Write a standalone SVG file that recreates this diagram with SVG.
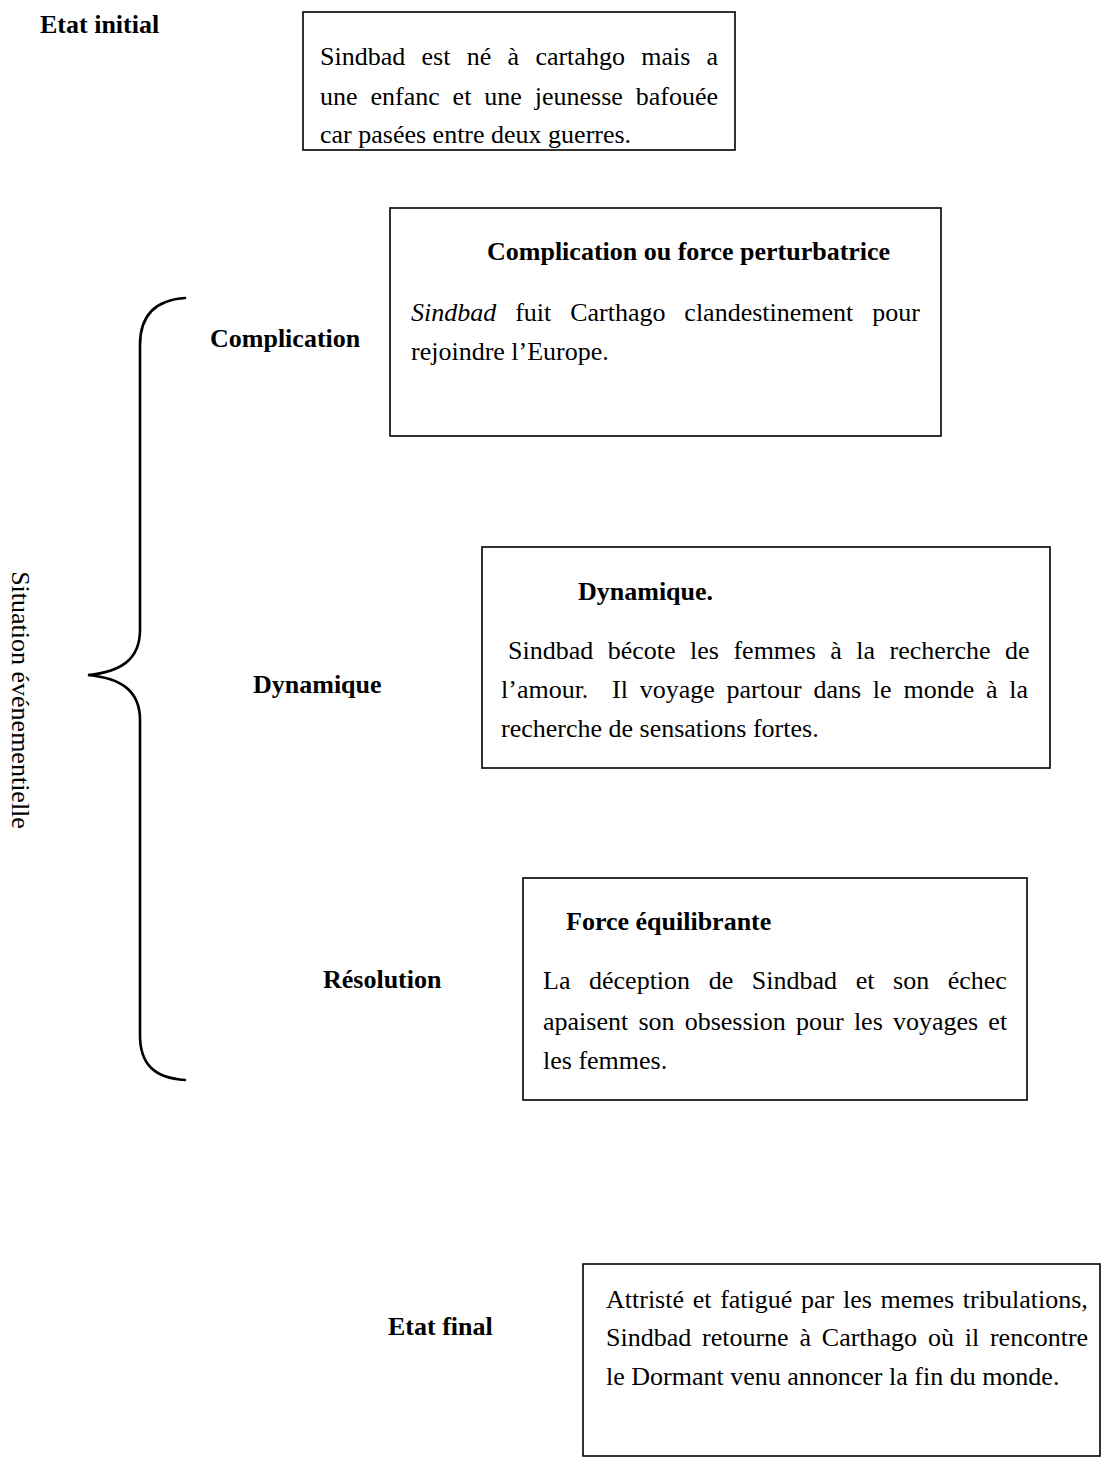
<svg xmlns="http://www.w3.org/2000/svg" width="1104" height="1472" viewBox="0 0 1104 1472">
<style>
.box{fill:#fff;stroke:#000;stroke-width:1.6}
.lbl{font-family:"Liberation Serif","Times New Roman",serif;font-size:26px;font-weight:bold;fill:#000}
.txt{font-family:"Liberation Serif","Times New Roman",serif;font-size:26px;fill:#000}
.brace{fill:none;stroke:#000;stroke-width:2.6;stroke-linecap:round}
</style>
<rect width="1104" height="1472" fill="#fff"/>
<g id="etat-initial-label"><text class="lbl" x="40" y="33">Etat initial</text></g>
<g id="etat-initial">
<rect class="box" x="303" y="12" width="432" height="138"/>
<text class="txt" x="320" y="65" style="word-spacing:9.8px">Sindbad est né à cartahgo mais a</text>
<text class="txt" x="320" y="105" style="word-spacing:6.4px">une enfanc et une jeunesse bafouée</text>
<text class="txt" x="320" y="143">car pasées entre deux guerres.</text>
</g>
<g id="complication-label"><text class="lbl" x="210" y="347">Complication</text></g>
<g id="complication">
<rect class="box" x="390" y="208" width="551" height="228"/>
<text class="lbl" x="487" y="260">Complication ou force perturbatrice</text>
<text class="txt" x="411" y="321" style="word-spacing:12.4px"><tspan font-style="italic">Sindbad</tspan> fuit Carthago clandestinement pour</text>
<text class="txt" x="411" y="360">rejoindre l’Europe.</text>
</g>
<g id="dynamique-label"><text class="lbl" x="253" y="693">Dynamique</text></g>
<g id="dynamique">
<rect class="box" x="482" y="547" width="568" height="221"/>
<text class="lbl" x="578" y="600">Dynamique.</text>
<text class="txt" x="508" y="659" style="word-spacing:8px">Sindbad bécote les femmes à la recherche de</text>
<text class="txt" x="501" y="698" xml:space="preserve" style="word-spacing:5.3px">l’amour.  Il voyage partour dans le monde à la</text>
<text class="txt" x="501" y="737">recherche de sensations fortes.</text>
</g>
<g id="resolution-label"><text class="lbl" x="323" y="988">Résolution</text></g>
<g id="resolution">
<rect class="box" x="523" y="878" width="504" height="222"/>
<text class="lbl" x="566" y="930">Force équilibrante</text>
<text class="txt" x="543" y="989" style="word-spacing:12.1px">La déception de Sindbad et son échec</text>
<text class="txt" x="543" y="1030" style="word-spacing:3.7px">apaisent son obsession pour les voyages et</text>
<text class="txt" x="543" y="1069">les femmes.</text>
</g>
<g id="etat-final-label"><text class="lbl" x="388" y="1335">Etat final</text></g>
<g id="etat-final">
<rect class="box" x="583" y="1264" width="517" height="192"/>
<text class="txt" x="606" y="1308" style="word-spacing:2.2px">Attristé et fatigué par les memes tribulations,</text>
<text class="txt" x="606" y="1346" style="word-spacing:4.3px">Sindbad retourne à Carthago où il rencontre</text>
<text class="txt" x="606" y="1385">le Dormant venu annoncer la fin du monde.</text>
</g>
<g id="situation-label"><text class="txt" transform="translate(12,700) rotate(90)" text-anchor="middle">Situation événementielle</text></g>
<g id="connectors">
<path class="brace" d="M185,298 C155,300 140,315 140,345 L140,630 C140,660 120,672 88,675 C120,678 140,690 140,720 L140,1035 C140,1065 155,1078 185,1080"/>
</g>
</svg>
